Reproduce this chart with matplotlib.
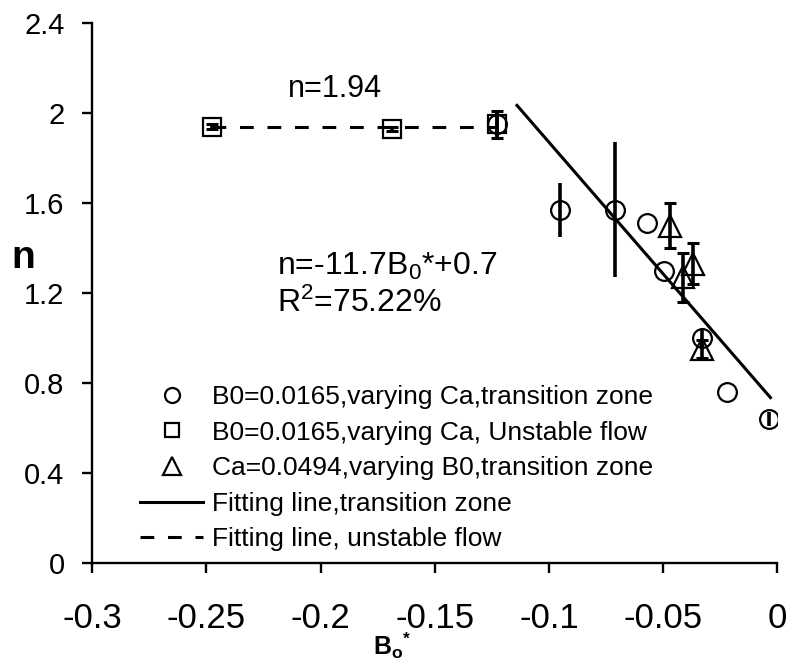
import matplotlib
matplotlib.use('Agg')
import matplotlib.pyplot as plt

plt.rcParams['font.family'] = ['Liberation Sans', 'DejaVu Sans']
plt.rcParams['mathtext.fontset'] = 'custom'
plt.rcParams['mathtext.rm'] = 'Liberation Sans'
plt.rcParams['mathtext.it'] = 'Liberation Sans'
plt.rcParams['mathtext.bf'] = 'Liberation Sans:bold'

# B0=0.0165, varying Ca, transition zone
circle_b = [-0.1227, -0.0952, -0.0711, -0.0570, -0.0496, -0.0330, -0.0220, -0.0036]
circle_n = [1.95, 1.57, 1.57, 1.51, 1.30, 1.00, 0.76, 0.64]
circle_err = [0.06, 0.12, 0.30, 0.0, 0.0, 0.04, 0.0, 0.03]

# B0=0.0165, varying Ca, unstable flow
square_b = [-0.2476, -0.1687, -0.1227]
square_n = [1.94, 1.93, 1.95]
square_err = [0.01, 0.01, 0.06]

# Ca=0.0494, varying B0, transition zone
tri_b = [-0.0470, -0.0413, -0.0370, -0.0330]
tri_n = [1.50, 1.27, 1.33, 0.95]
tri_err = [0.10, 0.11, 0.09, 0.04]

# fitted lines
fit_slope, fit_intercept = -11.7, 0.7
fit_b = [-0.114, -0.003]
unstable_n = 1.94
unstable_b = [-0.2476, -0.1227]

x_ticks = [-0.3, -0.25, -0.2, -0.15, -0.1, -0.05, 0]
x_tick_labels = ['-0.3', '-0.25', '-0.2', '-0.15', '-0.1', '-0.05', '0']
y_ticks = [0, 0.4, 0.8, 1.2, 1.6, 2.0, 2.4]
y_tick_labels = ['0', '0.4', '0.8', '1.2', '1.6', '2', '2.4']

labels = ['B0=0.0165,varying Ca,transition zone',
          'B0=0.0165,varying Ca, Unstable flow',
          'Ca=0.0494,varying B0,transition zone',
          'Fitting line,transition zone',
          'Fitting line, unstable flow']


def plot_series(ax, b, n, err, marker, size, capsize, label):
    ax.errorbar(b, n, yerr=err, fmt='none', ecolor='k', elinewidth=2.6,
                capsize=capsize, capthick=2.2, zorder=2)
    ax.plot(b, n, marker, ms=size, mfc='none', mec='k', mew=1.6,
            label=label, zorder=3)


fig = plt.figure(figsize=(7.91, 6.62), dpi=100)
ax = fig.add_axes([92.3 / 791, 1 - 563 / 662, 685 / 791, 540 / 662])

plot_series(ax, circle_b, circle_n, circle_err, 'o', 13.5, 0, labels[0])
plot_series(ax, square_b, square_n, square_err, 's', 13, 4.5, labels[1])
plot_series(ax, tri_b, tri_n, tri_err, '^', 16, 4.5, labels[2])

fit_n = [fit_slope * b + fit_intercept for b in fit_b]
ax.plot(fit_b, fit_n, '-', color='k', lw=2.2, label=labels[3], zorder=1)
ax.plot(unstable_b, [unstable_n, unstable_n], color='k', lw=2.2,
        dashes=(4.5, 4.5), label=labels[4], zorder=1)

ax.set_xlim(-0.3, 0)
ax.set_ylim(0, 2.4)
ax.set_xticks(x_ticks)
ax.set_xticklabels(x_tick_labels)
ax.set_yticks(y_ticks)
ax.set_yticklabels(y_tick_labels)

for side in ['top', 'right']:
    ax.spines[side].set_visible(False)
for side in ['left', 'bottom']:
    ax.spines[side].set_linewidth(1.7)
ax.tick_params(direction='out', length=7, width=1.7, color='k')
ax.tick_params(axis='x', labelsize=25, pad=21)
ax.tick_params(axis='y', labelsize=21, pad=13)

ax.set_ylabel('n', fontsize=28, fontweight='bold', rotation=0,
              va='center', ha='center')
ax.yaxis.set_label_coords(-0.101, 0.565)
ax.set_xlabel(r'$\mathbf{B}_\mathbf{o}{}^\mathbf{*}$', fontsize=18,
              va='top', ha='center')
ax.xaxis.set_label_coords(0.4375, -0.124)

ax.text(-0.2143, 2.071, 'n=1.94', fontsize=22, va='baseline')
ax.text(-0.2192, 1.28, r'n=-11.7B$_0$*+0.7', fontsize=23, va='baseline')
ax.text(-0.2192, 1.117, r'R$^2$=75.22%', fontsize=23, va='baseline')

ax.legend(loc='upper left', bbox_to_anchor=(140 / 791, 1 - 385 / 662),
          bbox_transform=fig.transFigure, frameon=False, fontsize=19,
          markerscale=0.8, handlelength=2.39, handletextpad=0.33,
          labelspacing=0.44, borderpad=0, borderaxespad=0)

fig.savefig('out.png', dpi=100)
